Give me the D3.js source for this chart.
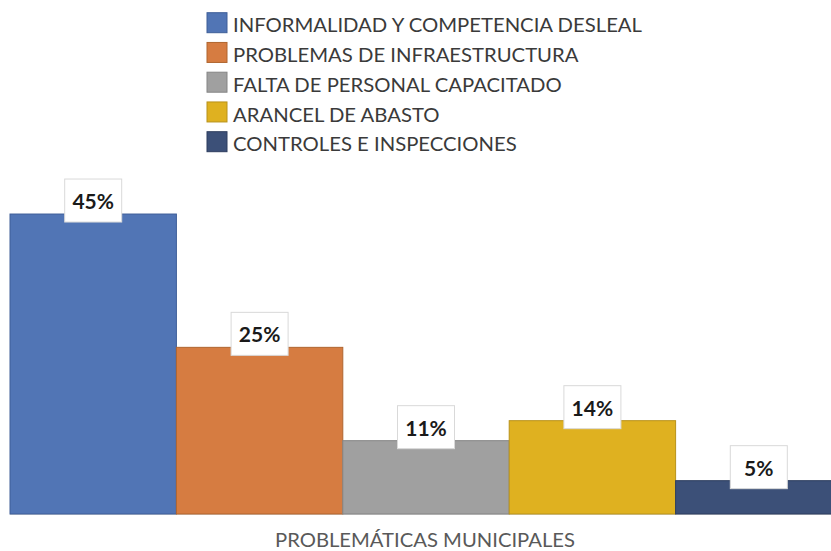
<!DOCTYPE html>
<html>
<head>
<meta charset="utf-8">
<script src="https://cdn.jsdelivr.net/npm/d3@7"></script>
<style>
html,body{margin:0;padding:0;background:#fff;overflow:hidden;}
svg{display:block;}
</style>
</head>
<body>
<svg id="chart" width="831" height="551"></svg>
<script>
const categories = [
  "INFORMALIDAD Y COMPETENCIA DESLEAL",
  "PROBLEMAS DE INFRAESTRUCTURA",
  "FALTA DE PERSONAL CAPACITADO",
  "ARANCEL DE ABASTO",
  "CONTROLES E INSPECCIONES"
];
const values = [0.45, 0.25, 0.11, 0.14, 0.05];
const colors = ["#5175b5", "#d67c41", "#a0a0a0", "#dfb120", "#3c5078"];
const strokes = ["#3e5e98", "#b0652f", "#858585", "#b8921a", "#2d3d5e"];
const axisTitle = "PROBLEMÁTICAS MUNICIPALES";

const svg = d3.select("#chart");
const W = 831, H = 551;
const FONT = "Lato, 'Open Sans', sans-serif";

const x = d3.scaleBand().domain(categories).range([10, 842]).padding(0);
const y = d3.scaleLinear().domain([0, 0.5]).range([514, 180.7]);

// baseline
svg.append("line")
  .attr("x1", 10).attr("x2", W)
  .attr("y1", y(0) + 0.5).attr("y2", y(0) + 0.5)
  .attr("stroke", "#d9d9d9").attr("stroke-width", 1.2);

// bars
svg.append("g").selectAll("rect")
  .data(categories)
  .join("rect")
  .attr("x", d => x(d))
  .attr("y", (d, i) => y(values[i]))
  .attr("width", x.bandwidth())
  .attr("height", (d, i) => y(0) - y(values[i]))
  .attr("fill", (d, i) => colors[i])
  .attr("stroke", (d, i) => strokes[i])
  .attr("stroke-width", 1);

// data labels
const fmt = d3.format(".0%");
const lab = svg.append("g").selectAll("g")
  .data(categories)
  .join("g")
  .attr("transform", (d, i) => `translate(${x(d) + x.bandwidth() / 2},${y(values[i]) - 13.5})`);
lab.append("rect")
  .attr("x", -28.5).attr("y", -21.5)
  .attr("width", 57).attr("height", 43)
  .attr("fill", "#fff").attr("stroke", "#d9d9d9").attr("stroke-width", 1);
lab.append("text")
  .attr("text-anchor", "middle")
  .attr("y", 8.5)
  .attr("font-family", FONT)
  .attr("font-weight", "bold")
  .attr("font-size", 21)
  .attr("fill", "#1a1a1a")
  .text((d, i) => fmt(values[i]));

// legend
const leg = svg.append("g").selectAll("g")
  .data(categories)
  .join("g")
  .attr("transform", (d, i) => `translate(207,${12.7 + i * 29.75})`);
leg.append("rect")
  .attr("width", 20).attr("height", 20)
  .attr("fill", (d, i) => colors[i])
  .attr("stroke", (d, i) => strokes[i]).attr("stroke-width", 1);
const legText = leg.append("text")
  .attr("x", 26)
  .attr("y", 19.6)
  .attr("font-family", FONT)
  .attr("font-size", 19.5)
  .attr("fill", "#3a3a3a")
  .text(d => d);

// fit legend text width to target for first entry
const nat0 = legText.nodes()[0].getComputedTextLength();
const k = 409 / nat0;
legText.each(function () {
  const w = this.getComputedTextLength();
  d3.select(this).attr("textLength", w * k).attr("lengthAdjust", "spacingAndGlyphs");
});

// axis title
const at = svg.append("text")
  .attr("x", 425).attr("y", 547)
  .attr("text-anchor", "middle")
  .attr("font-family", FONT)
  .attr("font-size", 18.5)
  .attr("fill", "#595959")
  .text(axisTitle);
at.attr("textLength", 300).attr("lengthAdjust", "spacingAndGlyphs");
</script>
</body>
</html>
